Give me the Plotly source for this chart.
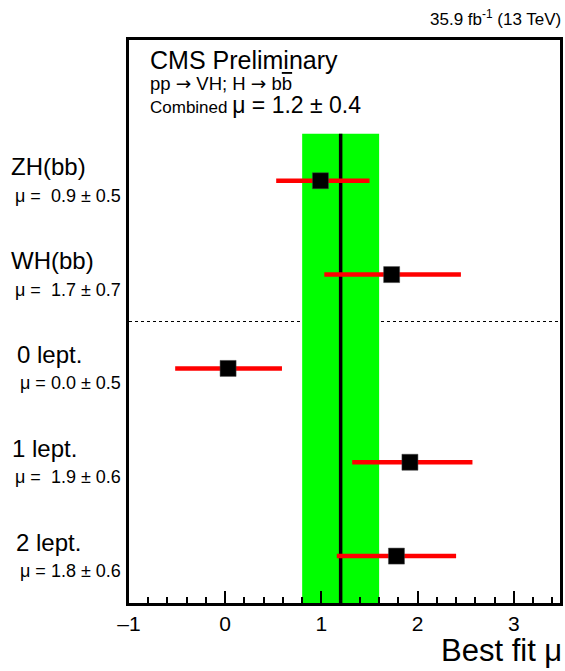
import plotly.graph_objects as go

# ---- data ----
categories = ["ZH(bb)", "WH(bb)", "0 lept.", "1 lept.", "2 lept."]
mu_labels = ["μ =  0.9 ± 0.5", "μ =  1.7 ± 0.7", "μ = 0.0 ± 0.5", "μ =  1.9 ± 0.6", "μ = 1.8 ± 0.6"]
mu_values = [0.99, 1.73, 0.03, 1.92, 1.78]
err_minus = [0.46, 0.70, 0.55, 0.60, 0.62]
err_plus = [0.51, 0.72, 0.56, 0.65, 0.62]
y_pos = [4.5, 3.5, 2.5, 1.5, 0.5]
combined_mu = 1.2
combined_err = 0.4
x_ticks = [-1, 0, 1, 2, 3]
x_ticktext = ["–1", "0", "1", "2", "3"]

W, H = 565, 671
ML, MR, MT, MB = 129, 2, 40, 68
PW, PH = W - ML - MR, H - MT - MB


def px(x):
    return (x - ML) / PW


def py(y):
    return (H - MB - y) / PH


FONT = "Liberation Sans, Arial, sans-serif"
ARROW = "<span style='font-family:DejaVu Sans'>→</span>"

fig = go.Figure()
fig.add_trace(go.Scatter(
    x=mu_values, y=y_pos, mode="markers",
    marker=dict(symbol="square", size=16, color="black", line=dict(color="#444", width=0.5)),
    error_x=dict(type="data", symmetric=False, array=err_plus, arrayminus=err_minus,
                 color="red", thickness=4.5, width=0),
    showlegend=False, hoverinfo="skip",
))

shapes = [
    dict(type="rect", xref="x", yref="y", x0=combined_mu - combined_err, x1=combined_mu + combined_err,
         y0=0, y1=5, fillcolor="#00ff00", line=dict(width=0), layer="below"),
    dict(type="line", xref="x", yref="y", x0=combined_mu, x1=combined_mu, y0=0, y1=5,
         line=dict(color="black", width=3.5), layer="below"),
    dict(type="line", xref="paper", yref="y", x0=0, x1=1, y0=3, y1=3,
         line=dict(color="black", width=1, dash="3px,3px"), layer="below"),
]

annotations = []
name_x = [8, 8, 14, 9, 13]
for i, (cat, lab) in enumerate(zip(categories, mu_labels)):
    ymark = H - MB - y_pos[i] * PH / 6
    annotations.append(dict(text=cat, xref="paper", yref="paper", x=px(name_x[i]), y=py(ymark - 14),
                            xanchor="left", yanchor="middle", showarrow=False,
                            font=dict(family=FONT, size=24, color="black")))
    annotations.append(dict(text=lab, xref="paper", yref="paper", x=px(123), y=py(ymark + 15),
                            xanchor="right", yanchor="middle", showarrow=False,
                            font=dict(family=FONT, size=18, color="black")))

annotations += [
    dict(text="35.9 fb<sup>-1</sup> (13 TeV)", xref="paper", yref="paper", x=px(566), y=py(18),
         xanchor="right", yanchor="middle", showarrow=False, font=dict(family=FONT, size=17, color="black")),
    dict(text="CMS Preliminary", xref="paper", yref="paper", x=px(148), y=py(60),
         xanchor="left", yanchor="middle", showarrow=False, font=dict(family=FONT, size=25, color="black")),
    dict(text="pp %s VH; H %s b<span style='text-decoration:overline'>b</span>" % (ARROW, ARROW),
         xref="paper", yref="paper",
         x=px(148), y=py(83), xanchor="left", yanchor="middle", showarrow=False,
         font=dict(family=FONT, size=18.5, color="black")),
    dict(text="Combined <span style='font-size:23px'>μ = %.1f ± %.1f</span>" % (combined_mu, combined_err),
         xref="paper", yref="paper", x=px(148), y=py(105), xanchor="left", yanchor="middle",
         showarrow=False, font=dict(family=FONT, size=17, color="black")),
    dict(text="Best fit μ", xref="paper", yref="paper", x=px(567), y=py(650),
         xanchor="right", yanchor="middle", showarrow=False, font=dict(family=FONT, size=31, color="black")),
]

fig.update_layout(
    width=W, height=H, margin=dict(l=ML, r=MR, t=MT, b=MB),
    paper_bgcolor="white", plot_bgcolor="white",
    shapes=shapes, annotations=annotations,
    xaxis=dict(range=[-1, 3.48], tickvals=x_ticks, ticktext=x_ticktext,
               ticks="inside", ticklen=12, tickwidth=1.5, tickcolor="black",
               minor=dict(dtick=0.2, tick0=0, ticks="inside", ticklen=6, tickwidth=1.5, tickcolor="black", showgrid=False),
               showgrid=False, zeroline=False, showline=True, linecolor="black", linewidth=3, mirror=True,
               tickfont=dict(family=FONT, size=21, color="black")),
    yaxis=dict(range=[0, 6], showticklabels=False, ticks="", showgrid=False, zeroline=False,
               showline=True, linecolor="black", linewidth=3, mirror=True),
)

fig.write_html("out.html")
